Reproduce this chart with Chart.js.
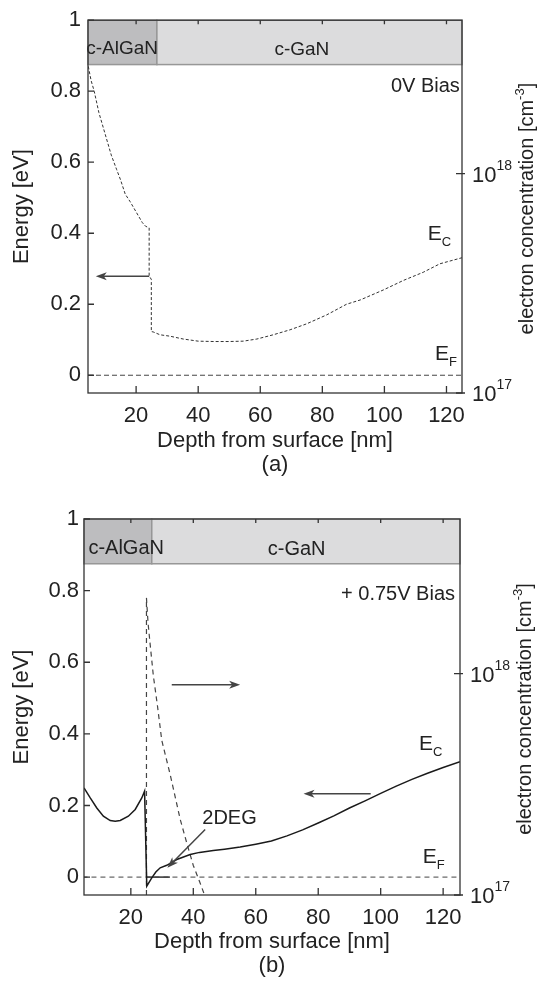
<!DOCTYPE html>
<html>
<head>
<meta charset="utf-8">
<script src="https://cdn.jsdelivr.net/npm/chart.js@4.4.0/dist/chart.umd.min.js"></script>
<style>
  html, body { margin: 0; padding: 0; background: #fff; }
  #wrap { position: relative; width: 540px; height: 981px; }
  .panel { position: absolute; left: 0; width: 540px; }
  #panelA { top: 0; height: 490px; }
  #panelB { top: 495px; height: 486px; }
</style>
</head>
<body>
<div id="wrap">
  <div class="panel" id="panelA"><canvas id="chartA"></canvas></div>
  <div class="panel" id="panelB"><canvas id="chartB"></canvas></div>
</div>
<script>
const depthTicks = [20, 40, 60, 80, 100, 120];
const energyTicks = [0, 0.2, 0.4, 0.6, 0.8, 1];
const concTicks = [1e17, 1e18];

const layerNames = ["c-AlGaN", "c-GaN"];
const layerBoundary = 26.7;
const bandBottom = 0.875;

// (a) 0V bias: conduction band edge
const ecDepthA = [4.6, 5.5, 6.5, 8, 10, 12, 13.7, 15, 16.5, 18, 20, 22, 23, 24.2, 24.2, 24.9, 24.9, 25.5, 27.7, 30.9, 35.2, 40, 45, 50, 54.5, 58.9, 64.2, 69.6, 75, 81.4, 87.8, 92.2, 99.6, 106.1, 112.5, 117.9, 125];
const ecEnergyA = [0.87, 0.83, 0.8, 0.74, 0.68, 0.62, 0.58, 0.55, 0.51, 0.49, 0.46, 0.43, 0.42, 0.415, 0.28, 0.27, 0.123, 0.122, 0.114, 0.11, 0.102, 0.096, 0.095, 0.095, 0.096, 0.102, 0.114, 0.128, 0.145, 0.17, 0.2, 0.212, 0.24, 0.267, 0.29, 0.314, 0.331];

// (b) +0.75V bias: conduction band edge
const ecDepthB = [5, 7, 9.1, 11.2, 13.4, 15, 16.6, 19.2, 21.4, 23.5, 24.4, 25.1, 26.7, 28, 29.4, 31.5, 34.7, 39, 42, 46.4, 50, 55, 60, 65, 70, 75, 80, 85, 90, 95, 100, 105, 110, 115, 120, 125.4];
const ecEnergyB = [0.249, 0.221, 0.193, 0.17, 0.158, 0.156, 0.158, 0.17, 0.189, 0.221, 0.24, -0.025, -0.002, 0.014, 0.026, 0.033, 0.049, 0.063, 0.069, 0.074, 0.078, 0.084, 0.092, 0.101, 0.115, 0.132, 0.151, 0.171, 0.193, 0.213, 0.234, 0.254, 0.273, 0.29, 0.306, 0.322];

// (b) electron concentration [cm^-3]
const nDepthB = [25, 25, 25.5, 26.2, 27.2, 28.5, 29.9, 32.6, 35.8, 38, 40, 42, 43.6];
const nConcB = [1e17, 2.2e18, 1.7e18, 1.35e18, 9.8e17, 7.2e17, 5.0e17, 3.5e17, 2.2e17, 1.7e17, 1.36e17, 1.15e17, 1.0e17];

// Fermi level and the filled 2DEG state
const efDepth = [4.5, 125.4];
const efEnergy = [0, 0];
const degDepth = [25.1, 32.5];
const degEnergy = [0, 0];

const pts = (xs, ys) => xs.map((x, i) => ({ x: x, y: ys[i] }));

Chart.defaults.font.family = "'Liberation Sans', Arial, sans-serif";
Chart.defaults.color = "#222";

const drawParts = (ctx, parts, x, y, align) => {
  const widths = parts.map((p) => {
    ctx.font = `${p.size}px 'Liberation Sans', Arial, sans-serif`;
    return ctx.measureText(p.t).width;
  });
  const total = widths.reduce((a, b) => a + b, 0);
  let cx = align === "right" ? x - total : align === "center" ? x - total / 2 : x;
  ctx.textAlign = "left";
  ctx.textBaseline = "alphabetic";
  parts.forEach((p, i) => {
    ctx.font = `${p.size}px 'Liberation Sans', Arial, sans-serif`;
    ctx.fillText(p.t, cx, y + (p.dy || 0));
    cx += widths[i];
  });
};

const drawArrow = (ctx, x0, y0, x1, y1) => {
  const ang = Math.atan2(y1 - y0, x1 - x0);
  ctx.strokeStyle = "#444";
  ctx.fillStyle = "#444";
  ctx.lineWidth = 1.5;
  ctx.beginPath();
  ctx.moveTo(x0, y0);
  ctx.lineTo(x1 - 6 * Math.cos(ang), y1 - 6 * Math.sin(ang));
  ctx.stroke();
  ctx.save();
  ctx.translate(x1, y1);
  ctx.rotate(ang);
  ctx.beginPath();
  ctx.moveTo(0, 0);
  ctx.lineTo(-11, -4);
  ctx.lineTo(-8, 0);
  ctx.lineTo(-11, 4);
  ctx.closePath();
  ctx.fill();
  ctx.restore();
};

const decor = {
  id: "decor",
  beforeDatasetsDraw(chart, args, opts) {
    const { ctx, scales: { x, y } } = chart;
    const yTop = y.getPixelForValue(1);
    const yBot = y.getPixelForValue(bandBottom);
    const edges = [x.min, layerBoundary, x.max];
    const fills = ["#bdbdbf", "#dcdcdd"];
    ctx.save();
    layerNames.forEach((name, i) => {
      const x0 = x.getPixelForValue(edges[i]);
      const x1 = x.getPixelForValue(edges[i + 1]);
      ctx.fillStyle = fills[i];
      ctx.fillRect(x0, yTop, x1 - x0, yBot - yTop);
      ctx.strokeStyle = "#979797";
      ctx.lineWidth = 1.5;
      ctx.strokeRect(x0, yTop, x1 - x0, yBot - yTop);
    });
    ctx.fillStyle = "#222";
    opts.layerText.forEach((l, i) => {
      drawParts(ctx, [{ t: layerNames[i], size: l.size }], x.getPixelForValue(l.x), y.getPixelForValue(l.y), "center");
    });
    ctx.restore();
  },
  afterDatasetsDraw(chart, args, opts) {
    const { ctx, chartArea: a, scales: { x, y, y2 } } = chart;
    ctx.save();
    // frame and inward ticks
    ctx.strokeStyle = "#333";
    ctx.lineWidth = 1.3;
    ctx.strokeRect(a.left, a.top, a.right - a.left, a.bottom - a.top);
    ctx.beginPath();
    depthTicks.forEach((v) => {
      const px = x.getPixelForValue(v);
      ctx.moveTo(px, a.bottom);
      ctx.lineTo(px, a.bottom - 7);
      ctx.moveTo(px, a.top);
      ctx.lineTo(px, a.top + 4);
    });
    energyTicks.forEach((v) => {
      const py = y.getPixelForValue(v);
      ctx.moveTo(a.left, py);
      ctx.lineTo(a.left + 6, py);
    });
    concTicks.forEach((v) => {
      const py = y2.getPixelForValue(v);
      ctx.moveTo(a.right - 6, py);
      ctx.lineTo(a.right + 3, py);
    });
    ctx.stroke();

    // right axis labels: powers of ten
    ctx.fillStyle = "#222";
    concTicks.forEach((v) => {
      const py = y2.getPixelForValue(v);
      const exp = String(Math.round(Math.log10(v)));
      drawParts(ctx, [{ t: "10", size: 22 }, { t: exp, size: 14, dy: -12 }], a.right + 10, py + 8, "left");
    });

    // right axis title, reading upwards
    ctx.save();
    ctx.translate(opts.rightTitleX, (a.top + a.bottom) / 2 + 2);
    ctx.rotate(-Math.PI / 2);
    drawParts(ctx, [
      { t: "electron concentration [cm", size: 20 },
      { t: "-3", size: 13, dy: -9 },
      { t: "]", size: 20 },
    ], 0, 0, "center");
    ctx.restore();

    // text annotations
    opts.texts.forEach((tx) => {
      drawParts(ctx, tx.parts, x.getPixelForValue(tx.x), y.getPixelForValue(tx.y), tx.align);
    });

    // arrows
    opts.arrows.forEach((ar) => {
      drawArrow(ctx, x.getPixelForValue(ar[0]), y.getPixelForValue(ar[1]), x.getPixelForValue(ar[2]), y.getPixelForValue(ar[3]));
    });
    ctx.restore();
  },
};

const makeScales = (xMin, xMax, leftW, rightW, bottomH, tickPad, label) => ({
  x: {
    type: "linear",
    min: xMin,
    max: xMax,
    grid: { display: false, drawTicks: false },
    border: { display: false },
    afterBuildTicks: (s) => { s.ticks = depthTicks.map((v) => ({ value: v })); },
    afterFit: (s) => { s.height = bottomH; },
    ticks: { font: { size: 22 }, padding: 10, maxRotation: 0, callback: (v) => String(v) },
    title: {
      display: true,
      text: ["Depth from surface [nm]", label],
      font: { size: 22, lineHeight: 1.1 },
      padding: { top: 0, bottom: label === "(a)" ? 13 : 3 },
    },
  },
  y: {
    type: "linear",
    position: "left",
    min: -0.05,
    max: 1,
    grid: { display: false, drawTicks: false },
    border: { display: false },
    afterBuildTicks: (s) => { s.ticks = energyTicks.map((v) => ({ value: v })); },
    afterFit: (s) => { s.width = leftW; },
    ticks: { font: { size: 22 }, padding: tickPad, callback: (v) => String(+v.toFixed(1)) },
    title: { display: true, text: "Energy [eV]", font: { size: 22, lineHeight: 1.2 }, padding: { top: 9, bottom: 0 } },
  },
  y2: {
    type: "logarithmic",
    position: "right",
    min: 1e17,
    max: 5e18,
    grid: { display: false, drawTicks: false },
    border: { display: false },
    ticks: { display: false },
    afterFit: (s) => { s.width = rightW; },
  },
});

const sub = (main, s, size) => [{ t: main, size: size }, { t: s, size: 13, dy: 6 }];

// (a) 0V bias
new Chart(document.getElementById("chartA"), {
  type: "scatter",
  data: {
    datasets: [
      { data: pts(ecDepthA, ecEnergyA), showLine: true, borderColor: "#333", borderWidth: 1, borderDash: [3, 2], pointRadius: 0, yAxisID: "y" },
      { data: pts(efDepth, efEnergy), showLine: true, borderColor: "#444", borderWidth: 1, borderDash: [5, 3], pointRadius: 0, yAxisID: "y" },
    ],
  },
  options: {
    responsive: true,
    maintainAspectRatio: false,
    animation: false,
    layout: { padding: { top: 17, left: 0, right: 0, bottom: 0 } },
    scales: makeScales(4.5, 125, 88, 78, 97, 7, "(a)"),
    plugins: {
      legend: { display: false },
      tooltip: { enabled: false },
      decor: {
        rightTitleX: 533,
        layerText: [{ x: 15.5, y: 0.905, size: 19 }, { x: 73.4, y: 0.903, size: 19 }],
        texts: [
          { parts: [{ t: "0V Bias", size: 20 }], x: 124.3, y: 0.797, align: "right" },
          { parts: sub("E", "C", 21), x: 114, y: 0.382, align: "left" },
          { parts: sub("E", "F", 21), x: 116.3, y: 0.042, align: "left" },
        ],
        arrows: [[24.2, 0.279, 7, 0.279]],
      },
    },
  },
  plugins: [decor],
});

// (b) +0.75V bias
new Chart(document.getElementById("chartB"), {
  type: "scatter",
  data: {
    datasets: [
      { data: pts(ecDepthB, ecEnergyB), showLine: true, borderColor: "#1a1a1a", borderWidth: 1.5, pointRadius: 0, yAxisID: "y" },
      { data: pts(efDepth, efEnergy), showLine: true, borderColor: "#444", borderWidth: 1, borderDash: [5, 4], pointRadius: 0, yAxisID: "y" },
      { data: pts(degDepth, degEnergy), showLine: true, borderColor: "#222", borderWidth: 1.4, pointRadius: 0, yAxisID: "y" },
      { data: pts(nDepthB, nConcB), showLine: true, borderColor: "#444", borderWidth: 1.2, borderDash: [5, 4], pointRadius: 0, yAxisID: "y2" },
    ],
  },
  options: {
    responsive: true,
    maintainAspectRatio: false,
    animation: false,
    layout: { padding: { top: 24, left: 0, right: 0, bottom: 0 } },
    scales: makeScales(5, 125.4, 84, 80, 86, 5, "(b)"),
    plugins: {
      legend: { display: false },
      tooltip: { enabled: false },
      decor: {
        rightTitleX: 531,
        layerText: [{ x: 18.5, y: 0.903, size: 20 }, { x: 73.1, y: 0.899, size: 20 }],
        texts: [
          { parts: [{ t: "+ 0.75V Bias", size: 20 }], x: 123.8, y: 0.773, align: "right" },
          { parts: sub("E", "C", 21), x: 112.3, y: 0.356, align: "left" },
          { parts: sub("E", "F", 21), x: 113.5, y: 0.038, align: "left" },
          { parts: [{ t: "2DEG", size: 20 }], x: 51.6, y: 0.147, align: "center" },
        ],
        arrows: [[33.1, 0.537, 55, 0.537], [96.8, 0.233, 75.3, 0.233], [43.8, 0.133, 31.7, 0.026]],
      },
    },
  },
  plugins: [decor],
});
</script>
</body>
</html>
